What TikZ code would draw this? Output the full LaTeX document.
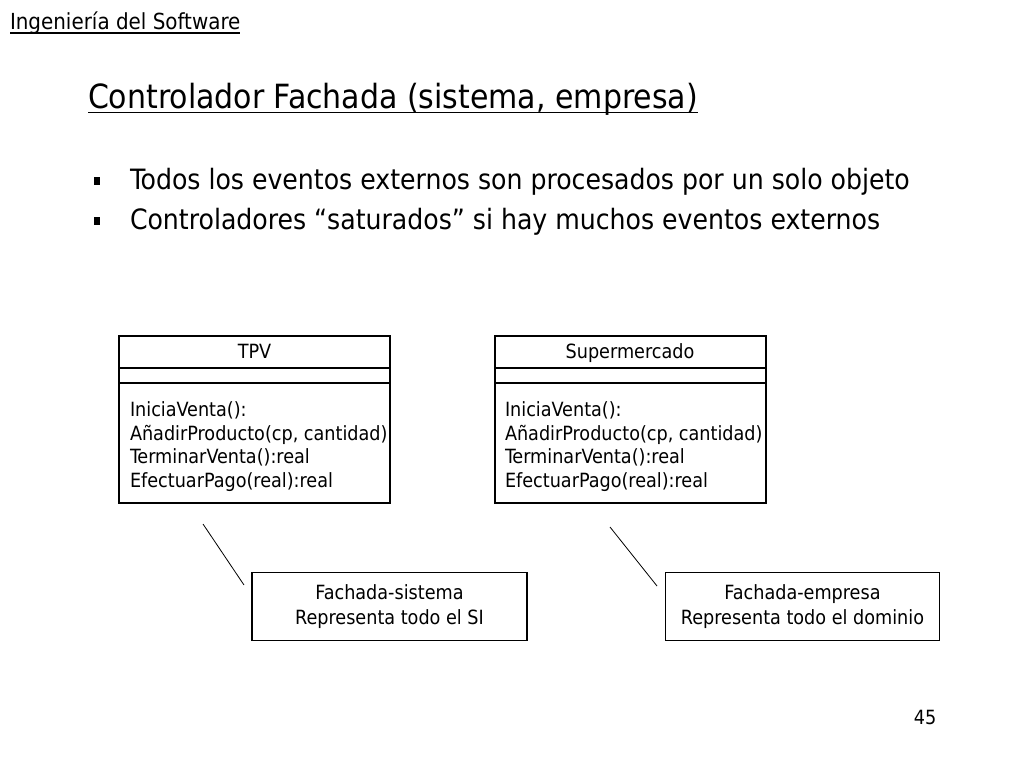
\documentclass[tikz,border=0pt]{standalone}
\usepackage{fontspec}
\setmainfont{DejaVu Sans Condensed}
\begin{document}
\begin{tikzpicture}[x=0.75pt,y=-0.75pt,
  txt/.style={inner sep=0pt,outer sep=0pt,anchor=base west},
  ctxt/.style={inner sep=0pt,outer sep=0pt,anchor=base},
  cls/.style={draw,line width=1.5pt},
  note/.style={draw,line width=0.8pt},
  link/.style={draw,line width=0.6pt},
  mtxt/.style={font=\fontsize{14.7}{17.6}\selectfont},
  btxt/.style={font=\fontsize{21}{25}\selectfont},
  bul/.style={fill=black,minimum width=4.5pt,minimum height=5.5pt,inner sep=0pt}]
\useasboundingbox (0,0) rectangle (1024,768);
% header
\node[txt,font=\fontsize{16.6}{19}\selectfont] (hdr) at (10,29) {Ingeniería del Software};
\draw[line width=0.8pt] (10,33) -- (hdr.base east |- 0,33);
% title
\node[txt,font=\fontsize{25}{30}\selectfont] (title) at (88,108) {Controlador Fachada (sistema, empresa)};
\draw[line width=1pt] (88,112.5) -- (title.base east |- 0,112.5);
% bullets
\node[bul] (b1) at (97,181) {};
\node[bul] (b2) at (97,221) {};
\node[txt,btxt] (t1) at (130,189) {Todos los eventos externos son procesados por un solo objeto};
\node[txt,btxt] (t2) at (130,229) {Controladores “saturados” si hay muchos eventos externos};
% TPV class
\draw[cls] (119,336) rectangle (390,503);
\draw[cls] (119,368) -- (390,368);
\draw[cls] (119,383) -- (390,383);
\node[mtxt,ctxt] (tpvname) at (254.5,358.5) {TPV};
\node[mtxt,txt] (m1) at (130,416) {IniciaVenta():};
\node[mtxt,txt] (m2) at (130,440) {AñadirProducto(cp, cantidad)};
\node[mtxt,txt] (m3) at (130,463.5) {TerminarVenta():real};
\node[mtxt,txt] (m4) at (130,487) {EfectuarPago(real):real};
% Supermercado class
\draw[cls] (494.5,336) rectangle (765.5,503);
\draw[cls] (494.5,368) -- (765.5,368);
\draw[cls] (494.5,383) -- (765.5,383);
\node[mtxt,ctxt] (supname) at (630,358.5) {Supermercado};
\node[mtxt,txt] (s1) at (505,416) {IniciaVenta():};
\node[mtxt,txt] (s2) at (505,440) {AñadirProducto(cp, cantidad)};
\node[mtxt,txt] (s3) at (505,463.5) {TerminarVenta():real};
\node[mtxt,txt] (s4) at (505,487) {EfectuarPago(real):real};
% notes
\node[note,minimum width=275*0.75pt,minimum height=68*0.75pt,align=center,mtxt] (n1) at (389.5,606.5) {Fachada-sistema\\[1pt]Representa todo el SI};
\node[note,minimum width=274*0.75pt,minimum height=68*0.75pt,align=center,mtxt] (n2) at (802.5,606.5) {Fachada-empresa\\[1pt]Representa todo el dominio};
\coordinate (c1) at (203,524);
\coordinate (c2) at (610,527);
\draw[link] (c1) -- (244,585);
\draw[link] (c2) -- (657,586);
% page number
\node[mtxt,ctxt] (pg) at (925,724) {45};
\end{tikzpicture}
\end{document}
